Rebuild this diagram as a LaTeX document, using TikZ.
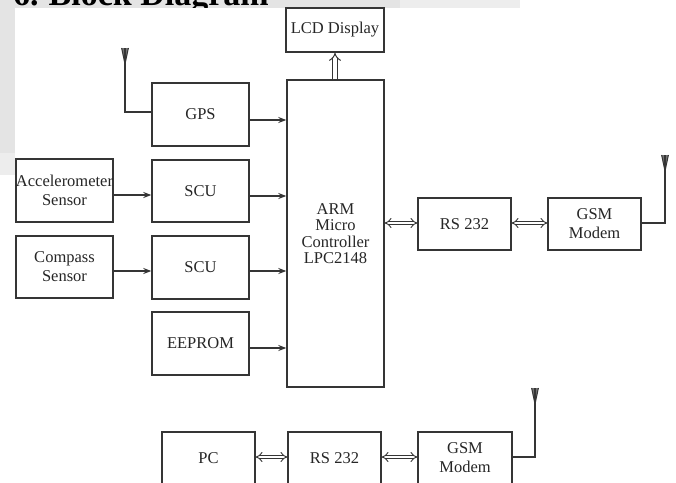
\documentclass[tikz,border=0pt]{standalone}
\usepackage{fontspec}
\setmainfont{Liberation Serif}
\usetikzlibrary{arrows.meta}
\definecolor{linec}{HTML}{353535}
\definecolor{textc}{HTML}{262626}
\definecolor{bandc}{HTML}{E4E4E4}
\definecolor{bandl}{HTML}{EDEDED}
\tikzset{
  blk/.style={draw=linec, line width=1.4pt, inner sep=0pt, text=textc,
    font=\fontsize{16.5}{16.4}\selectfont, align=center},
  wire/.style={draw=linec, line width=1.3pt},
  arr/.style={wire, -{Stealth[length=8pt,width=6pt]}},
  dbl/.style={draw=linec, line width=0.9pt, double=white, double distance=2.6pt,
    {Implies[length=5pt]}-{Implies[length=5pt]}},
  upimp/.style={draw=linec, line width=1pt, double=white, double distance=3.2pt,
    -{Implies[length=6pt]}},
  antenna/.pic={
    \fill[linec!70] (-3.4,0) -- (3.4,0) -- (0,16) -- cycle;
    \draw[linec, line width=1pt] (-3.4,0) -- (0,16) -- (3.4,0);
    \draw[linec, line width=1.3pt] (0,0) -- (0,16);
  }
}
\begin{document}
\begin{tikzpicture}[x=1pt,y=-1pt]
\useasboundingbox (0,0) rectangle (676,482);
\clip (0,0) rectangle (676,482);
% page background bands
\fill[bandl] (0,0) rectangle (520,8);
\fill[bandc] (0,0) rectangle (400,8);
\fill[bandc] (0,0) rectangle (15,153);
\fill[bandl] (0,153) rectangle (15,175);
% heading (mostly cut off)
\node[anchor=base west, inner sep=0pt, font=\bfseries\fontsize{34}{36}\selectfont] (hd) at (13,5) {6.\hspace{10pt}Block Diagram};
% white diagram area
\fill[white] (15,8) rectangle (676,482);
% blocks
\node[blk, minimum width=98, minimum height=44] (lcd) at (335,30) {LCD Display};
\node[blk, minimum width=97, minimum height=307] (arm) at (335.5,233.5) {ARM\\Micro\\Controller\\LPC2148};
\node[blk, minimum width=97, minimum height=63] (gps) at (200.5,114.5) {GPS};
\node[blk, minimum width=97, minimum height=63] (acc) at (64.5,190.5) {Accelerometer\\[2.5pt]Sensor};
\node[blk, minimum width=97, minimum height=62] (scu1) at (200.5,191) {SCU};
\node[blk, minimum width=97, minimum height=62] (cmp) at (64.5,267) {Compass\\[2.5pt]Sensor};
\node[blk, minimum width=97, minimum height=63] (scu2) at (200.5,267.5) {SCU};
\node[blk, minimum width=97, minimum height=63] (eep) at (200.5,343.5) {EEPROM};
\node[blk, minimum width=93, minimum height=52] (rs1) at (464.5,224) {RS 232};
\node[blk, minimum width=93, minimum height=52] (gsm1) at (594.5,224) {GSM\\[2.5pt]Modem};
\node[blk, minimum width=93, minimum height=52] (pc) at (208.5,458) {PC};
\node[blk, minimum width=93, minimum height=52] (rs2) at (334.5,458) {RS 232};
\node[blk, minimum width=94, minimum height=52] (gsm2) at (465,458) {GSM\\[2.5pt]Modem};
% arrows into ARM
\coordinate (g1) at ([yshift=-5.5pt]gps.east);
\draw[arr] (g1) -- (g1 -| arm.west);
\coordinate (s1) at ([yshift=-5pt]scu1.east);
\draw[arr] (s1) -- (s1 -| arm.west);
\coordinate (s2) at ([yshift=-3.5pt]scu2.east);
\draw[arr] (s2) -- (s2 -| arm.west);
\coordinate (e1) at ([yshift=-4.5pt]eep.east);
\draw[arr] (e1) -- (e1 -| arm.west);
\coordinate (a1) at ([yshift=-4.5pt]acc.east);
\draw[arr] (a1) -- (a1 -| scu1.west);
\coordinate (c1) at ([yshift=-4pt]cmp.east);
\draw[arr] (c1) -- (c1 -| scu2.west);
% LCD
\draw[upimp] (lcd.south |- arm.north) -- (lcd.south);
% serial links
\coordinate (r1) at ([yshift=1pt]rs1.west);
\draw[dbl] (r1 -| arm.east) -- (r1);
\coordinate (r2) at ([yshift=1pt]rs1.east);
\draw[dbl] (r2) -- (r2 -| gsm1.west);
\coordinate (r3) at ([yshift=1pt]pc.east);
\draw[dbl] (r3) -- (r3 -| rs2.west);
\coordinate (r4) at ([yshift=1pt]rs2.east);
\draw[dbl] (r4) -- (r4 -| gsm2.west);
% antennas
\coordinate (gw) at ([yshift=2.5pt]gps.west);
\coordinate (ant1) at (125,48);
\draw[wire] (gw) -- (gw -| ant1) -- (ant1);
\pic at (ant1) {antenna};
\coordinate (m1) at ([yshift=1pt]gsm1.east);
\coordinate (ant2) at (665,155);
\draw[wire] (m1) -- (m1 -| ant2) -- (ant2);
\pic at (ant2) {antenna};
\coordinate (m2) at ([yshift=1pt]gsm2.east);
\coordinate (ant3) at (535,388);
\draw[wire] (m2) -- (m2 -| ant3) -- (ant3);
\pic at (ant3) {antenna};
\end{tikzpicture}
\end{document}
